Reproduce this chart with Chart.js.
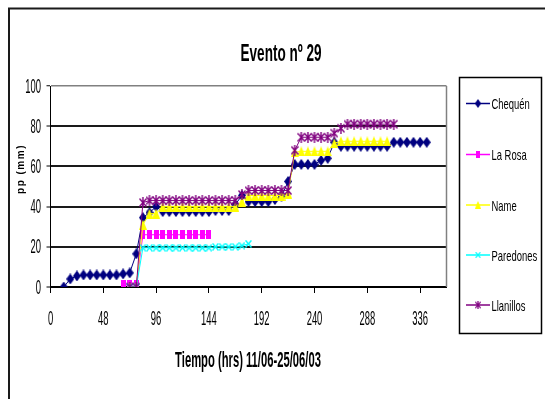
<!DOCTYPE html>
<html>
<head>
<meta charset="utf-8">
<script src="https://cdn.jsdelivr.net/npm/chart.js@4.4.1/dist/chart.umd.min.js"></script>
<style>
  body { margin: 0; background: #fff; }
  #wrap { width: 545px; height: 399px; }
</style>
</head>
<body>
<div id="wrap"><canvas id="chart" width="545" height="399"></canvas></div>
<script>
// rainfall accumulation per station, hours since 11/06
const chequenHrs = [12, 18, 24, 30, 36, 42, 48, 54, 60, 66, 72, 78, 84, 90, 96, 102, 108, 114, 120, 126, 132, 138, 144,
  150, 156, 162, 168, 174, 180, 186, 192, 198, 204, 210, 216, 222, 228, 234, 240, 246, 252, 258, 264, 270, 276, 282,
  288, 294, 300, 306, 312, 318, 324, 330, 336, 342];
const chequenPP = [0, 4, 5.5, 6, 6, 6, 6, 6, 6, 6.5, 7, 16.5, 34.5, 37, 40, 37.5, 37.5, 37.5, 37.5, 37.5, 37.5, 37.5, 37.5,
  38, 38, 38, 41, 45.5, 42.5, 42.5, 42.5, 42.5, 43.5, 45, 52.5, 61, 61, 61, 61, 63, 64, 72, 70, 70, 70, 70,
  70, 70, 70, 70, 72, 72, 72, 72, 72, 72];

const laRosaHrs = [66, 72, 78, 84, 90, 96, 102, 108, 114, 120, 126, 132, 138, 144];
const laRosaPP = [1, 1, 1, 26, 26, 26, 26, 26, 26, 26, 26, 26, 26, 26];

const nameHrs = [72, 78, 84, 90, 96, 102, 108, 114, 120, 126, 132, 138, 144, 150, 156, 162, 168, 174, 180, 186, 192,
  198, 204, 210, 216, 222, 228, 234, 240, 246, 252, 258, 264, 270, 276, 282, 288, 294, 300, 306];
const namePP = [0, 0, 31, 36.5, 36.5, 40, 40, 40, 40, 40, 40, 40, 40, 40, 40, 40, 40, 42.5, 45.5, 45.5, 45.5,
  45.5, 45.5, 45.5, 46.5, 67, 67.5, 67.5, 67.5, 67.5, 67.5, 71.5, 72.5, 72.5, 72.5, 72.5, 72.5, 72.5, 72.5, 72.5];

const paredonesHrs = [72, 78, 84, 90, 96, 102, 108, 114, 120, 126, 132, 138, 144, 150, 156, 162, 168, 174, 180];
const paredonesPP = [0, 0, 19.5, 19.5, 19.5, 19.5, 19.5, 19.5, 19.5, 19.5, 19.5, 19.5, 19.5, 20, 20, 20, 20, 20.5, 21.5];

const llanillosHrs = [72, 78, 84, 90, 96, 102, 108, 114, 120, 126, 132, 138, 144, 150, 156, 162, 168, 174, 180, 186,
  192, 198, 204, 210, 216, 222, 228, 234, 240, 246, 252, 258, 264, 270, 276, 282, 288, 294, 300, 306, 312];
const llanillosPP = [0, 0, 42, 43, 43, 43, 43, 43, 43, 43, 43, 43, 43, 43, 43, 43, 43, 46, 48, 48,
  48, 48, 48, 48, 48, 68, 74.5, 74.5, 74.5, 74.5, 74.5, 76.5, 79, 81, 81, 81, 81, 81, 81, 81, 81];

const stations = ['Chequén', 'La Rosa', 'Name', 'Paredones', 'Llanillos'];
const xTicks = [0, 48, 96, 144, 192, 240, 288, 336];
const yTicks = [0, 20, 40, 60, 80, 100];

const chartTitle = 'Evento nº 29';
const xTitle = 'Tiempo (hrs) 11/06-25/06/03';
const yTitle = 'pp (mm)';

const NARROW = "'Liberation Sans Narrow', 'Liberation Sans', Arial, sans-serif";

// if the narrow face is missing, squeeze the regular one instead
let squeeze = 1;
(() => {
  const g = document.createElement('canvas').getContext('2d');
  g.font = "20px 'Liberation Sans Narrow', 'Liberation Sans'";
  const a = g.measureText('Paredones 0123').width;
  g.font = "20px 'Liberation Sans'";
  const b = g.measureText('Paredones 0123').width;
  if (Math.abs(a - b) < 0.5) squeeze = 0.82;
})();

// tall, condensed text like the old spreadsheet export
function tallText(ctx, str, x, y, size, weight, sy, align) {
  ctx.save();
  ctx.font = `${weight} ${size}px ${NARROW}`;
  ctx.textAlign = align;
  ctx.textBaseline = 'alphabetic';
  ctx.fillStyle = '#000';
  ctx.translate(x, y);
  ctx.scale(squeeze, sy);
  ctx.fillText(str, 0, 0);
  ctx.restore();
}

// marker images
function marker(w, h, draw) {
  const c = document.createElement('canvas');
  c.width = w; c.height = h;
  draw(c.getContext('2d'), w, h);
  return c;
}
const diamond = col => marker(8, 11, (g, w, h) => {
  g.fillStyle = col;
  g.beginPath(); g.moveTo(w / 2, 0); g.lineTo(w, h / 2); g.lineTo(w / 2, h); g.lineTo(0, h / 2); g.closePath();
  g.fill();
});
const square = col => marker(5, 9, (g, w, h) => { g.fillStyle = col; g.fillRect(0, 0, w, h); });
const triangle = col => marker(8, 10, (g, w, h) => {
  g.fillStyle = col;
  g.beginPath(); g.moveTo(w / 2, 0); g.lineTo(w, h); g.lineTo(0, h); g.closePath();
  g.fill();
});
const xMark = col => marker(7, 8, (g, w, h) => {
  g.strokeStyle = col; g.lineWidth = 1.4;
  g.beginPath(); g.moveTo(0.5, 0.5); g.lineTo(w - 0.5, h - 0.5); g.moveTo(w - 0.5, 0.5); g.lineTo(0.5, h - 0.5);
  g.stroke();
});
const starMark = col => marker(8, 11, (g, w, h) => {
  g.strokeStyle = col; g.lineWidth = 1.4;
  g.beginPath();
  g.moveTo(0.5, 1.5); g.lineTo(w - 0.5, h - 1.5); g.moveTo(w - 0.5, 1.5); g.lineTo(0.5, h - 1.5);
  g.moveTo(w / 2, 0); g.lineTo(w / 2, h);
  g.stroke();
});

const colors = ['#000080', '#ff00ff', '#ffff00', '#00ffff', '#800080'];
const markers = [diamond(colors[0]), square(colors[1]), triangle(colors[2]), xMark(colors[3]), starMark(colors[4])];
const seriesHrs = [chequenHrs, laRosaHrs, nameHrs, paredonesHrs, llanillosHrs];
const seriesPP = [chequenPP, laRosaPP, namePP, paredonesPP, llanillosPP];

const datasets = stations.map((name, i) => ({
  label: name,
  data: seriesHrs[i].map((h, j) => ({ x: h, y: seriesPP[i][j] })),
  borderColor: colors[i],
  backgroundColor: colors[i],
  borderWidth: 1,
  pointStyle: markers[i],
  pointRadius: 4,
  order: stations.length - i   // first station sits underneath
}));

const frame = {
  id: 'frame',
  beforeDraw(chart) {
    const ctx = chart.ctx;
    ctx.save();
    ctx.fillStyle = '#fff';
    ctx.fillRect(0, 0, chart.width, chart.height);
    ctx.strokeStyle = '#1a1a1a';
    ctx.lineWidth = 2;
    ctx.beginPath();
    ctx.moveTo(9, chart.height); ctx.lineTo(9, 8.5); ctx.lineTo(chart.width, 8.5);
    ctx.stroke();
    ctx.restore();
  },
  beforeDatasetsDraw(chart) {
    const { ctx, chartArea: a } = chart;
    ctx.save();
    ctx.strokeStyle = '#808080';
    ctx.lineWidth = 1.5;
    ctx.beginPath();
    ctx.moveTo(a.right, a.top); ctx.lineTo(a.right, a.bottom);
    ctx.stroke();
    ctx.restore();
  },
  afterDraw(chart) {
    const ctx = chart.ctx;
    const xs = chart.scales.x, ys = chart.scales.y;
    // titles
    tallText(ctx, chartTitle, 281, 61, 16.5, 'bold', 1.45, 'center');
    tallText(ctx, xTitle, 248, 366.5, 13.7, 'bold', 1.65, 'center');
    ctx.save();
    ctx.translate(23.5, 169);
    ctx.rotate(-Math.PI / 2);
    ctx.font = "bold 10px 'Liberation Sans', Arial, sans-serif";
    ctx.letterSpacing = '1.5px';
    ctx.textAlign = 'center';
    ctx.fillStyle = '#000';
    ctx.fillText(yTitle, 0, 0);
    ctx.restore();
    // tick labels
    xTicks.forEach(v => tallText(ctx, String(v), xs.getPixelForValue(v), 325, 11.5, 'normal', 1.7, 'center'));
    yTicks.forEach(v => tallText(ctx, String(v), 41, ys.getPixelForValue(v) + 6.5, 11.5, 'normal', 1.7, 'right'));
    // legend box
    ctx.save();
    ctx.strokeStyle = '#000';
    ctx.lineWidth = 1.5;
    ctx.strokeRect(459.5, 77.5, 82, 256);
    ctx.restore();
    const rowY = [103.5, 154.5, 205, 255, 305];
    stations.forEach((name, i) => {
      const y = rowY[i];
      ctx.save();
      ctx.strokeStyle = colors[i];
      ctx.lineWidth = 1.5;
      ctx.beginPath(); ctx.moveTo(466, y); ctx.lineTo(490, y); ctx.stroke();
      const m = markers[i];
      ctx.drawImage(m, 478 - m.width * 0.4, y - m.height * 0.4, m.width * 0.8, m.height * 0.8);
      ctx.restore();
      tallText(ctx, name, 491.5, y + 5.7, 11.5, 'normal', 1.35, 'left');
    });
  }
};

new Chart(document.getElementById('chart'), {
  type: 'line',
  data: { datasets },
  options: {
    responsive: false,
    animation: false,
    devicePixelRatio: 1,
    layout: { padding: { left: 0, top: 86, right: 98.5, bottom: 72 } },
    plugins: { legend: { display: false }, tooltip: { enabled: false }, title: { display: false } },
    scales: {
      x: {
        type: 'linear',
        min: 0,
        max: 360,
        afterBuildTicks: s => { s.ticks = xTicks.map(v => ({ value: v })); },
        afterFit: s => { s.height = 40; },
        ticks: { display: false },
        grid: { drawOnChartArea: false, drawTicks: true, tickLength: 6, tickColor: '#000', tickWidth: 1 },
        border: { color: '#000', width: 2 }
      },
      y: {
        min: 0,
        max: 100,
        afterBuildTicks: s => { s.ticks = yTicks.map(v => ({ value: v })); },
        afterFit: s => { s.width = 50.5; },
        ticks: { display: false },
        grid: {
          color: c => (c.tick && c.tick.value === 100) ? '#808080' : '#1a1a1a',
          lineWidth: c => (c.tick && c.tick.value === 100) ? 1.5 : 2,
          tickLength: 4,
          tickColor: '#000',
          tickWidth: 1
        },
        border: { color: '#000', width: 1 }
      }
    }
  },
  plugins: [frame]
});
</script>
</body>
</html>
